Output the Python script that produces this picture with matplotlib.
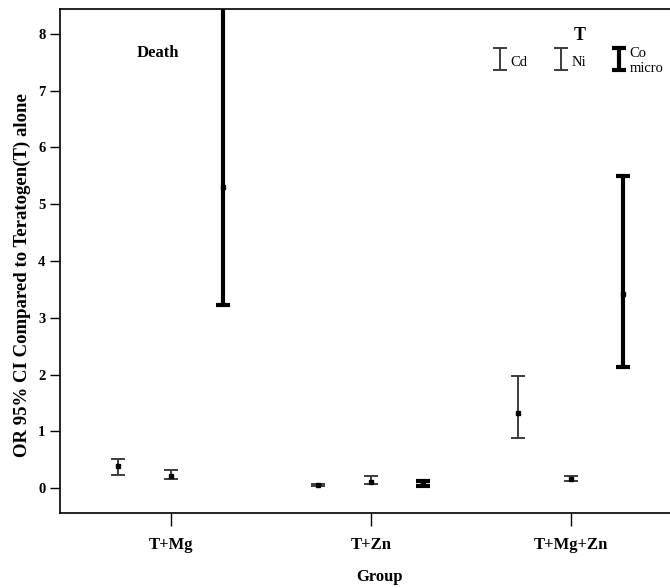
# Odds ratio (95% CI) of death by group, relative to teratogen (T) alone
import numpy as np
import matplotlib.pyplot as plt
from matplotlib.container import ErrorbarContainer
from matplotlib.legend_handler import HandlerErrorbar

plt.rcParams['font.family'] = ['Liberation Serif', 'DejaVu Serif']

# ── data ──
groups = ['T+Mg', 'T+Zn', 'T+Mg+Zn']
metals = ['Cd', 'Ni', 'Co\nmicro']

cd_or = [0.39, 0.05, 1.33]
cd_lo = [0.23, 0.03, 0.89]
cd_hi = [0.52, 0.065, 1.97]

ni_or = [0.21, 0.10, 0.16]
ni_lo = [0.165, 0.065, 0.12]
ni_hi = [0.32, 0.21, 0.22]

co_or = [5.30, 0.07, 3.41]
co_lo = [3.23, 0.03, 2.14]
co_hi = [8.70, 0.12, 5.50]

# ── figure ──
fig = plt.figure(figsize=(6.7, 5.88), dpi=100)
# axes runs off the right edge of the picture, as in the source
ax = fig.add_axes([60 / 670, 75 / 588, 640 / 670, 504 / 588])

x = np.arange(len(groups))
offsets = [-0.265, 0.0, 0.26]
series = [(cd_or, cd_lo, cd_hi), (ni_or, ni_lo, ni_hi), (co_or, co_lo, co_hi)]
styles = [dict(color='#3c3c3c', lw=1.4, capsize=5, capthick=1.4),
          dict(color='#3c3c3c', lw=1.4, capsize=5, capthick=1.4),
          dict(color='black', lw=3.0, capsize=5, capthick=3.0)]

handles = []
for (orv, lo, hi), off, st, name in zip(series, offsets, styles, metals):
    orv, lo, hi = map(np.asarray, (orv, lo, hi))
    xs = x + off
    eb = ax.errorbar(xs, orv, yerr=[orv - lo, hi - orv], fmt='none',
                     ecolor=st['color'], elinewidth=st['lw'],
                     capsize=st['capsize'], capthick=st['capthick'],
                     label=name, zorder=3)
    ax.plot(xs, orv, 's', color='black', markersize=3, zorder=4)
    handles.append(eb)

ax.set_xlim(-0.555, 2.645)
ax.set_ylim(-0.44, 8.44)
ax.set_xticks(x)
ax.set_xticklabels(groups, fontsize=12, fontweight='bold')
ax.set_yticks(range(0, 9))
ax.tick_params(axis='y', labelsize=10.5, length=7, width=1, direction='out')
ax.tick_params(axis='x', length=9, width=1, direction='out', pad=8)
for lbl in ax.get_yticklabels():
    lbl.set_fontweight('bold')

for s in ax.spines.values():
    s.set_linewidth(1.2)

ax.set_xlabel('Group', fontsize=12, fontweight='bold', labelpad=12)
ax.set_ylabel('OR 95% CI Compared to Teratogen(T) alone', fontsize=13.5,
              fontweight='bold')
ax.yaxis.set_label_coords(-0.046, 0.472)

ax.text(-0.065, 7.67, 'Death', fontsize=12, fontweight='bold',
        ha='center', va='center')

leg = ax.legend(handles=handles, labels=metals, ncol=3, frameon=False,
                title='T', loc='upper center', bbox_to_anchor=(0.812, 0.99),
                handlelength=0.6, handleheight=1.6, handletextpad=0.4,
                columnspacing=2.0, fontsize=10.5, labelspacing=0.2,
                handler_map={ErrorbarContainer: HandlerErrorbar(yerr_size=0.75)})
leg.get_title().set_fontweight('bold')
leg.get_title().set_fontsize(13)

plt.savefig('out.png', dpi=100, facecolor='white')
plt.close()
